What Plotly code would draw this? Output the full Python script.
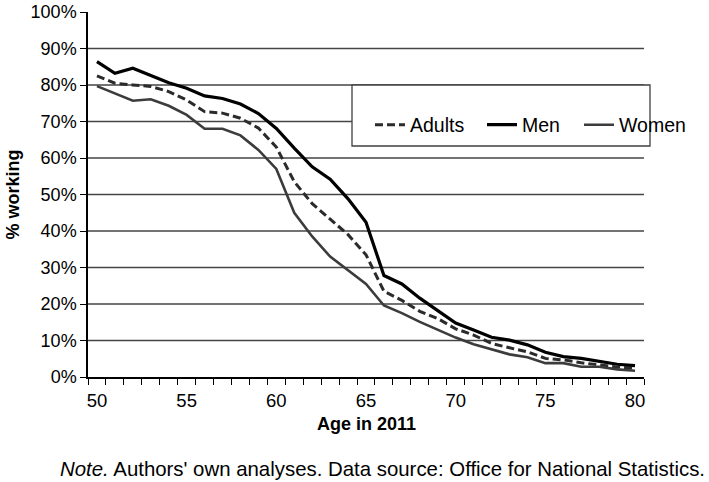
import plotly.graph_objects as go

ages = list(range(50, 81))
adults = [82.5, 80.5, 80.0, 79.6, 78.2, 75.9, 72.7, 72.3, 70.9, 68.2, 63.0,
          53.5, 47.5, 43.3, 39.0, 33.5, 23.5, 21.0, 18.0, 16.0, 13.2,
          11.5, 9.2, 8.0, 6.9, 5.1, 4.7, 3.9, 3.3, 2.7, 2.4]
men = [86.4, 83.2, 84.6, 82.6, 80.6, 79.1, 77.0, 76.3, 74.8, 72.2, 68.1,
       62.7, 57.6, 54.2, 48.8, 42.4, 27.8, 25.5, 21.6, 18.2, 14.8,
       12.9, 10.9, 10.1, 8.8, 6.8, 5.6, 5.1, 4.2, 3.5, 3.1]
women = [79.7, 77.7, 75.7, 76.1, 74.3, 71.8, 68.0, 68.0, 66.2, 62.2, 57.0,
         45.0, 38.5, 33.0, 29.2, 25.5, 19.6, 17.5, 15.1, 12.9, 10.8,
         9.0, 7.6, 6.2, 5.4, 3.8, 3.8, 2.8, 2.8, 2.1, 1.7]
x_ticks = [50, 55, 60, 65, 70, 75, 80]
y_ticks = [0, 10, 20, 30, 40, 50, 60, 70, 80, 90, 100]
y_grid = [10, 20, 30, 40, 50, 60, 70, 80, 90]

FONT = "Liberation Sans, Arial, sans-serif"
L, R, T, B = 88, 65, 12, 105
PW = 709 - L - R
PH = 482 - T - B


def px_x(p):
    return (p - L) / PW


def px_y(p):
    return (482 - B - p) / PH


fig = go.Figure()
fig.add_trace(go.Scatter(x=ages, y=[v / 100 for v in adults], name="Adults", mode="lines",
                         legend="legend",
                         line=dict(color="#2b2b2b", width=3, dash="8px,4px")))
fig.add_trace(go.Scatter(x=ages, y=[v / 100 for v in men], name="Men", mode="lines",
                         legend="legend2",
                         line=dict(color="#000000", width=3.2)))
fig.add_trace(go.Scatter(x=ages, y=[v / 100 for v in women], name="Women", mode="lines",
                         legend="legend3",
                         line=dict(color="#3c3c3c", width=2.6)))

shapes = []
for g in y_grid:
    shapes.append(dict(type="line", xref="paper", yref="y", x0=0, x1=1, y0=g / 100, y1=g / 100,
                       line=dict(color="#454545", width=1.7), layer="below"))
# legend box
shapes.append(dict(type="rect", xref="paper", yref="paper",
                   x0=px_x(352), x1=px_x(650), y0=px_y(146), y1=px_y(85),
                   line=dict(color="#404040", width=1.3), fillcolor="white", layer="above"))

leg_common = dict(orientation="h", xanchor="left", yanchor="middle",
                  bgcolor="rgba(0,0,0,0)", borderwidth=0, font=dict(size=19.5, family=FONT),
                  itemwidth=30)

fig.update_layout(
    width=709, height=482,
    margin=dict(l=L, r=R, t=T, b=B),
    paper_bgcolor="white", plot_bgcolor="white",
    font=dict(family=FONT, size=18, color="black"),
    shapes=shapes,
    showlegend=True,
    legend=dict(x=px_x(370), y=px_y(125), **leg_common),
    legend2=dict(x=px_x(482), y=px_y(125), **leg_common),
    legend3=dict(x=px_x(579), y=px_y(125), **leg_common),
    xaxis=dict(range=[49.5, 80.5], tickvals=x_ticks, ticktext=[str(t) for t in x_ticks],
               ticks="", showgrid=False, zeroline=False, automargin=False,
               showline=True, linecolor="black", linewidth=1.5,
               minor=dict(tick0=49.5, dtick=1, ticks="outside", ticklen=6, tickcolor="black",
                          tickwidth=1.2, showgrid=False),
               ticklabelstandoff=6,
               tickfont=dict(size=18.5)),
    yaxis=dict(range=[0, 1], tickvals=[t / 100 for t in y_ticks],
               ticktext=[f"{t}%" for t in y_ticks], automargin=False,
               ticks="outside", ticklen=6, tickcolor="black", tickwidth=1.2,
               showgrid=False, zeroline=False,
               showline=True, linecolor="black", linewidth=1.5,
               title=dict(text="<b>% working</b>", standoff=6, font=dict(size=18)),
               tickfont=dict(size=18)),
    annotations=[
        dict(text="<b>Age in 2011</b>", xref="paper", yref="paper",
             x=0.5, y=px_y(424), xanchor="center", yanchor="middle", showarrow=False,
             font=dict(size=18, family=FONT)),
        dict(text="<i>Note.</i> Authors' own analyses. Data source: Office for National Statistics.",
             xref="paper", yref="paper", x=px_x(382), y=px_y(469),
             xanchor="center", yanchor="middle", showarrow=False,
             font=dict(size=20.4, family=FONT))],
)

fig.write_html("out.html", config={"displayModeBar": False},
               post_script="document.body.style.margin='0';document.body.style.padding='0';")
